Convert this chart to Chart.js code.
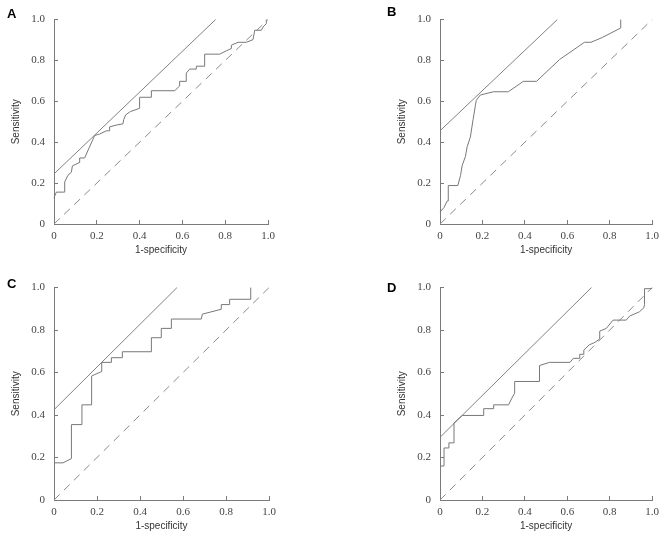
<!DOCTYPE html>
<html>
<head>
<meta charset="utf-8">
<script src="https://cdn.jsdelivr.net/npm/chart.js@4.4.0/dist/chart.umd.min.js"></script>
<style>
  body { margin: 0; background: #fff; }
  #wrap { position: relative; width: 669px; height: 536px; overflow: hidden; }
  canvas { position: absolute; }
  .tag { position: absolute; font: bold 13px "Liberation Sans", Arial, sans-serif; line-height: 13px; color: #000; }
</style>
</head>
<body>
<div id="wrap">
  <canvas id="chartA" width="335" height="268" style="left:0;top:0"></canvas>
  <canvas id="chartB" width="335" height="268" style="left:334px;top:0"></canvas>
  <canvas id="chartC" width="335" height="268" style="left:0;top:268px"></canvas>
  <canvas id="chartD" width="335" height="268" style="left:334px;top:268px"></canvas>
  <div class="tag" style="left:7px;top:7px">A</div>
  <div class="tag" style="left:387px;top:5px">B</div>
  <div class="tag" style="left:7px;top:277px">C</div>
  <div class="tag" style="left:387px;top:281px">D</div>
</div>
<script>
// axis ticks
const tickValues = [0, 0.2, 0.4, 0.6, 0.8, 1.0];

// Panel A: ROC curve (1-specificity, sensitivity)
const fprA = [0, 0.011, 0.05, 0.05, 0.065, 0.081, 0.086, 0.117, 0.12, 0.143, 0.19, 0.213, 0.245, 0.26, 0.26, 0.291, 0.322, 0.326, 0.335, 0.357, 0.40, 0.40, 0.455, 0.455, 0.564, 0.587, 0.587, 0.618, 0.618, 0.634, 0.665, 0.665, 0.704, 0.704, 0.774, 0.805, 0.829, 0.829, 0.86, 0.899, 0.93, 0.938, 0.969, 0.977, 0.992, 0.992];
const tprA = [0.128, 0.156, 0.156, 0.206, 0.238, 0.253, 0.284, 0.30, 0.323, 0.323, 0.433, 0.44, 0.456, 0.456, 0.475, 0.484, 0.49, 0.511, 0.534, 0.55, 0.566, 0.62, 0.62, 0.652, 0.652, 0.675, 0.698, 0.698, 0.738, 0.758, 0.758, 0.772, 0.772, 0.831, 0.831, 0.847, 0.859, 0.875, 0.889, 0.889, 0.902, 0.948, 0.948, 0.964, 0.98, 1.0];
const tangentA = [0.245, 0.755]; // intercept at x=0, x where it reaches 1.0

// Panel B
const fprB = [0, 0.019, 0.034, 0.039, 0.039, 0.084, 0.097, 0.104, 0.12, 0.128, 0.143, 0.156, 0.167, 0.171, 0.19, 0.252, 0.322, 0.393, 0.455, 0.564, 0.681, 0.712, 0.766, 0.852, 0.852];
const tprB = [0.058, 0.081, 0.113, 0.113, 0.188, 0.188, 0.238, 0.284, 0.331, 0.378, 0.425, 0.511, 0.581, 0.605, 0.631, 0.647, 0.647, 0.698, 0.698, 0.805, 0.889, 0.889, 0.913, 0.959, 1.0];
const tangentB = [0.456, 0.553];

// Panel C
const fprC = [0, 0.042, 0.081, 0.081, 0.13, 0.13, 0.175, 0.175, 0.222, 0.222, 0.267, 0.267, 0.318, 0.318, 0.453, 0.453, 0.499, 0.499, 0.546, 0.546, 0.685, 0.69, 0.778, 0.778, 0.817, 0.817, 0.915, 0.915];
const tprC = [0.175, 0.175, 0.195, 0.355, 0.355, 0.448, 0.448, 0.584, 0.605, 0.648, 0.648, 0.67, 0.67, 0.698, 0.698, 0.764, 0.764, 0.808, 0.808, 0.852, 0.852, 0.875, 0.898, 0.92, 0.92, 0.945, 0.945, 1.0];
const tangentC = [0.425, 0.572];

// Panel D
const fprD = [0, 0.019, 0.019, 0.042, 0.042, 0.066, 0.066, 0.105, 0.206, 0.206, 0.253, 0.253, 0.323, 0.339, 0.352, 0.352, 0.469, 0.469, 0.516, 0.613, 0.628, 0.659, 0.659, 0.678, 0.678, 0.703, 0.73, 0.753, 0.753, 0.784, 0.816, 0.878, 0.894, 0.94, 0.961, 0.964, 0.964, 1.0];
const tprD = [0.16, 0.16, 0.245, 0.245, 0.269, 0.269, 0.363, 0.398, 0.398, 0.43, 0.43, 0.448, 0.448, 0.48, 0.503, 0.558, 0.558, 0.633, 0.648, 0.648, 0.667, 0.667, 0.686, 0.686, 0.706, 0.73, 0.742, 0.758, 0.795, 0.808, 0.847, 0.847, 0.866, 0.886, 0.905, 0.92, 0.995, 0.995];
const tangentD = [0.295, 0.714];

const axisFont = { family: '"Liberation Sans", Arial, sans-serif', size: 10 };
const tickFont = { family: '"Liberation Serif", "Times New Roman", serif', size: 11 };

function toPoints(xs, ys) {
    return xs.map((x, i) => ({ x: x, y: ys[i] }));
}

// geom: layout padding + axis box sizes so the plot area lands where the reference has it
function makePanel(id, fpr, tpr, tangent, geom) {
    const ctx = document.getElementById(id).getContext('2d');
    new Chart(ctx, {
        type: 'scatter',
        data: {
            datasets: [
                {
                    data: toPoints(fpr, tpr),
                    showLine: true,
                    borderColor: '#787878',
                    borderWidth: 1,
                    pointRadius: 0,
                    clip: 4
                },
                {
                    data: [{ x: 0, y: tangent[0] }, { x: tangent[1], y: 1 }],
                    showLine: true,
                    borderColor: '#828282',
                    borderWidth: 1,
                    pointRadius: 0,
                    clip: 4
                },
                {
                    data: [{ x: 0, y: 0 }, { x: 1, y: 1 }],
                    showLine: true,
                    borderColor: '#8a8a8a',
                    borderWidth: 1,
                    borderDash: [8, 6],
                    pointRadius: 0,
                    clip: 4
                }
            ]
        },
        options: {
            responsive: false,
            animation: false,
            devicePixelRatio: 1,
            layout: { padding: { left: geom.left, top: geom.top, right: geom.right, bottom: 0 } },
            plugins: { legend: { display: false }, tooltip: { enabled: false } },
            scales: {
                x: {
                    type: 'linear',
                    min: 0,
                    max: 1,
                    afterFit: scale => { scale.height = geom.xHeight; },
                    afterBuildTicks: scale => { scale.ticks = tickValues.map(v => ({ value: v })); },
                    ticks: {
                        autoSkip: false,
                        maxRotation: 0,
                        padding: 10,
                        color: '#444',
                        font: tickFont,
                        callback: v => v === 0 ? '0' : v.toFixed(1)
                    },
                    grid: { drawOnChartArea: false, tickLength: -4, color: '#7a7a7a' },
                    border: { color: '#7a7a7a', width: 1 },
                    title: {
                        display: true,
                        text: '1-specificity',
                        color: '#333',
                        font: axisFont,
                        padding: { top: 0, bottom: geom.titleBottom }
                    }
                },
                y: {
                    type: 'linear',
                    min: 0,
                    max: 1,
                    afterFit: scale => { scale.width = 54; },
                    afterBuildTicks: scale => { scale.ticks = tickValues.map(v => ({ value: v })); },
                    ticks: {
                        autoSkip: false,
                        padding: 13,
                        color: '#444',
                        font: tickFont,
                        callback: v => v === 0 ? '0' : v.toFixed(1)
                    },
                    grid: { drawOnChartArea: false, tickLength: -4, color: '#7a7a7a' },
                    border: { color: '#7a7a7a', width: 1 },
                    title: {
                        display: true,
                        text: 'Sensitivity',
                        color: '#333',
                        font: axisFont,
                        padding: { top: 10, bottom: 0 }
                    }
                }
            }
        }
    });
}

makePanel('chartA', fprA, tprA, tangentA, { left: 0, top: 11, right: 67, xHeight: 44, titleBottom: 12 });
makePanel('chartB', fprB, tprB, tangentB, { left: 52, top: 11, right: 15, xHeight: 44, titleBottom: 12 });
makePanel('chartC', fprC, tprC, tangentC, { left: 0, top: 19, right: 66, xHeight: 36, titleBottom: 4 });
makePanel('chartD', fprD, tprD, tangentD, { left: 52, top: 19, right: 16, xHeight: 36, titleBottom: 4 });
</script>
</body>
</html>
